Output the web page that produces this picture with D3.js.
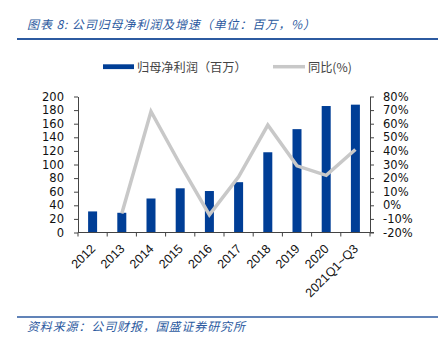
<!DOCTYPE html>
<html><head><meta charset="utf-8">
<script src="https://cdn.jsdelivr.net/npm/d3@7"></script>
<style>body{margin:0;background:#fff}svg{display:block}</style>
</head><body>
<svg id="c" width="440" height="343"></svg>
<script>
const categories = ["2012","2013","2014","2015","2016","2017","2018","2019","2020","2021Q1~Q3"];
const profit = [31, 29, 50, 65, 61, 74, 118, 152, 186, 188];
const growth = [null, -6, 69, 30, -7, 21, 59, 29, 22, 41];
const leftTicks = [0,20,40,60,80,100,120,140,160,180,200];
const rightTicks = [-20,-10,0,10,20,30,40,50,60,70,80];
const titleText = "图表 8:  公司归母净利润及增速（单位：百万，%）";
const sourceText = "资料来源：公司财报，国盛证券研究所";
const legendLabels = ["归母净利润（百万）", "同比(%)"];

const svg = d3.select("#c");
const blue = "#003e96", gray = "#c8c8c8", navy = "#2c5aa0";
const m = {l:78, r:370, t:96.5, b:232.5};
const x = d3.scaleBand().domain(categories).range([m.l, m.r]);
const yL = d3.scaleLinear().domain([0,200]).range([m.b, m.t]);
const yR = d3.scaleLinear().domain([-20,80]).range([m.b, m.t]);
const font = "'DejaVu Sans', Verdana, sans-serif";
const xfont = "'Liberation Sans', Arial, sans-serif";
const cjk = "'Noto Sans CJK SC', sans-serif";

// title
svg.append("text").attr("x",27).attr("y",29).text(titleText)
  .attr("font-family",cjk).attr("font-size",12).attr("font-style","italic")
  .attr("fill",navy).attr("textLength",288).attr("lengthAdjust","spacing");
svg.append("line").attr("x1",17).attr("x2",438).attr("y1",39).attr("y2",39)
  .attr("stroke",navy).attr("stroke-width",2);
// source
svg.append("line").attr("x1",17).attr("x2",438).attr("y1",317).attr("y2",317)
  .attr("stroke",navy).attr("stroke-width",1.5);
svg.append("text").attr("x",27).attr("y",331).text(sourceText)
  .attr("font-family",cjk).attr("font-size",12).attr("font-style","italic")
  .attr("fill",navy).attr("textLength",218).attr("lengthAdjust","spacing");

// legend
svg.append("rect").attr("x",103).attr("y",64.3).attr("width",31).attr("height",4.8).attr("fill",blue);
svg.append("text").attr("x",137).attr("y",71.5).text(legendLabels[0])
  .attr("font-family",cjk).attr("font-size",12.2).attr("fill","#444");
svg.append("line").attr("x1",273).attr("x2",305).attr("y1",66.7).attr("y2",66.7)
  .attr("stroke",gray).attr("stroke-width",3.5);
svg.append("text").attr("x",308).attr("y",71.5).text(legendLabels[1])
  .attr("font-family",cjk).attr("font-size",12.2).attr("fill","#444");

// bars
svg.append("g").selectAll("rect").data(categories).join("rect")
  .attr("x", d => x(d) + x.bandwidth()/2 - 4.5)
  .attr("width", 9)
  .attr("y", (d,i) => yL(profit[i]))
  .attr("height", (d,i) => m.b - yL(profit[i]))
  .attr("fill", blue);

// line
const pts = categories.map((d,i)=>({c:d, v:growth[i]})).filter(p=>p.v!==null);
svg.append("path").datum(pts)
  .attr("d", d3.line().x(p=>x(p.c)+x.bandwidth()/2).y(p=>yR(p.v)))
  .attr("fill","none").attr("stroke",gray).attr("stroke-width",3.5)
  .attr("stroke-linejoin","miter");

// axes
function styleAxis(g){
  g.selectAll("path,line").attr("stroke","#444").attr("stroke-width",1);
  g.selectAll("text").attr("font-family",font).attr("font-size",11.5).attr("fill","#111");
}
const gl = svg.append("g").attr("transform",`translate(${m.l},0)`)
  .call(d3.axisLeft(yL).tickValues(leftTicks).tickSize(4).tickSizeOuter(0).tickPadding(10));
styleAxis(gl);
const gr = svg.append("g").attr("transform",`translate(${m.r},0)`)
  .call(d3.axisRight(yR).tickValues(rightTicks).tickFormat(d=>d+"%").tickSize(4).tickSizeOuter(0).tickPadding(9));
styleAxis(gr);

const gx = svg.append("g").attr("transform",`translate(0,${m.b})`);
gx.append("line").attr("x1",m.l).attr("x2",m.r+4).attr("y1",0).attr("y2",0).attr("stroke","#444");
const bounds = categories.map(c=>x(c)).concat([m.r]);
gx.selectAll("line.t").data(bounds).join("line").attr("class","t")
  .attr("x1",d=>d).attr("x2",d=>d).attr("y1",0).attr("y2",4).attr("stroke","#444");
gx.selectAll("text").data(categories).join("text")
  .attr("transform", d => `translate(${x(d)+x.bandwidth()/2+3.5},${17}) rotate(-45)`)
  .attr("text-anchor","end").attr("font-family",xfont).attr("font-size",12.5).attr("fill","#111")
  .text(d=>d);
</script>
</body></html>
